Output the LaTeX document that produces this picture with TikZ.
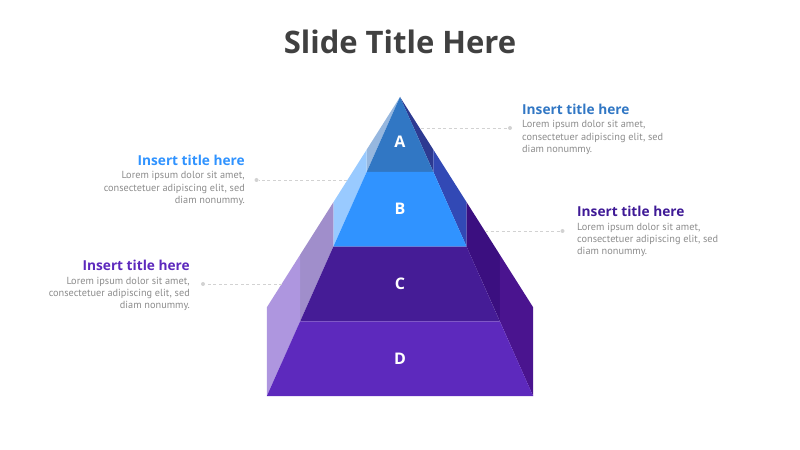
\documentclass[tikz,border=0pt]{standalone}
\usepackage{fontspec}
\setmainfont{PT Sans}
\newfontfamily\headfont{Open Sans}
\usetikzlibrary{positioning,calc}
\usepackage{xcolor}

\definecolor{frontA}{HTML}{3177C4}
\definecolor{leftA}{HTML}{96B7DF}
\definecolor{rightA}{HTML}{2D3A91}
\definecolor{frontB}{HTML}{3093FF}
\definecolor{leftB}{HTML}{99CAFF}
\definecolor{rightB}{HTML}{3249B5}
\definecolor{frontC}{HTML}{451C96}
\definecolor{leftC}{HTML}{A08ECB}
\definecolor{rightC}{HTML}{3B0F80}
\definecolor{frontD}{HTML}{5D29BD}
\definecolor{leftD}{HTML}{AE96DF}
\definecolor{rightD}{HTML}{4A148F}
\definecolor{titlegrey}{HTML}{404040}
\definecolor{bodygrey}{HTML}{8C8C8C}
\definecolor{leadgrey}{HTML}{D2D2D2}
\definecolor{ttlC}{HTML}{3F1A96}

\tikzset{
layerlbl/.style={
  font=\headfont\fontsize{16bp}{16bp}\selectfont\bfseries,
  text=white
  },
ttl/.style={font=\headfont\fontsize{13.7bp}{13.7bp}\selectfont\bfseries, inner sep=0pt},
txt/.style={font=\fontsize{10.3bp}{12.2bp}\selectfont, text=bodygrey, inner sep=0pt},
leader/.style={draw=leadgrey, dash pattern=on 3bp off 2.5bp, line width=0.8bp},
enddot/.style={circle, fill=leadgrey, inner sep=0pt, minimum size=4bp},
%slide/.style={font=\headfont}
}

\begin{document}
\begin{tikzpicture}[x=1bp,y=-1bp]
    \useasboundingbox (0,0) rectangle (800,450);
    \node[font=\headfont\fontsize{31bp}{31bp}\selectfont\bfseries, text=titlegrey] (title) at (400,42) {Slide Title Here};

    % pyramid, one layer at a time
    \foreach \k/\fc/\lc/\rc in {1/frontA/leftA/rightA, 2/frontB/leftB/rightB, 3/frontC/leftC/rightC, 4/frontD/leftD/rightD}
    {
        \pgfmathsetmacro\xa{400-33.3*(\k-1)}
        \pgfmathsetmacro\xb{400-33.3*\k}
        \pgfmathsetmacro\ya{97+74.8*(\k-1)}
        \pgfmathsetmacro\yb{97+74.8*\k}
        \pgfmathsetmacro\oa{97+52.6*(\k-1)}
        \pgfmathsetmacro\ob{97+52.6*\k}
        \fill [\lc] (\xa,\oa) -- (\xa,\ya) -- (\xb,\yb) -- (\xb,\ob) -- cycle;
        \fill [\rc] (800-\xa,\oa) -- (800-\xa,\ya) -- (800-\xb,\yb) -- (800-\xb,\ob) -- cycle;
        \fill [\fc] (\xa,\ya) -- (800-\xa,\ya) -- (800-\xb,\yb) -- (\xb,\yb) -- cycle;
    }
    \node[layerlbl] (lA) at (400,142) {A};
    \node[layerlbl] (lB) at (400,209) {B};
    \node[layerlbl] (lC) at (400,284) {C};
    \node[layerlbl] (lD) at (400,359) {D};

    % text blocks
    \node[ttl, text=frontA, anchor=base west] (tA) at (522,114.5) {Insert title here};
    \node[txt, anchor=north west, align=left] (bA) at ([yshift=-5.5bp]tA.south west) {Lorem ipsum dolor sit amet,\\consectetuer adipiscing elit, sed\\diam nonummy.};
    \node[ttl, text=frontB, anchor=base east] (tB) at (245,165.5) {Insert title here};
    \node[txt, anchor=north east, align=right] (bB) at ([yshift=-5.5bp]tB.south east) {Lorem ipsum dolor sit amet,\\consectetuer adipiscing elit, sed\\diam nonummy.};
    \node[ttl, text=ttlC, anchor=base west] (tC) at (577,217) {Insert title here};
    \node[txt, anchor=north west, align=left] (bC) at ([yshift=-5.5bp]tC.south west) {Lorem ipsum dolor sit amet,\\consectetuer adipiscing elit, sed\\diam nonummy.};
    \node[ttl, text=frontD, anchor=base east] (tD) at (190,271) {Insert title here};
    \node[txt, anchor=north east, align=right] (bD) at ([yshift=-5.5bp]tD.south east) {Lorem ipsum dolor sit amet,\\consectetuer adipiscing elit, sed\\diam nonummy.};

    % leaders
    \coordinate (eA) at (421,128);
    \coordinate (eB) at (347,180);
    \coordinate (eC) at (485,231);
    \coordinate (eD) at (282,284);
    \node[enddot] (dA) at (510,128) {};
    \node[enddot] (dB) at (256.5,180) {};
    \node[enddot] (dC) at (562.5,231) {};
    \node[enddot] (dD) at (203,284) {};
    \foreach \s in {A,B,C,D}
        \draw [leader] (e\s) -- (d\s);

\end{tikzpicture}
\end{document}
